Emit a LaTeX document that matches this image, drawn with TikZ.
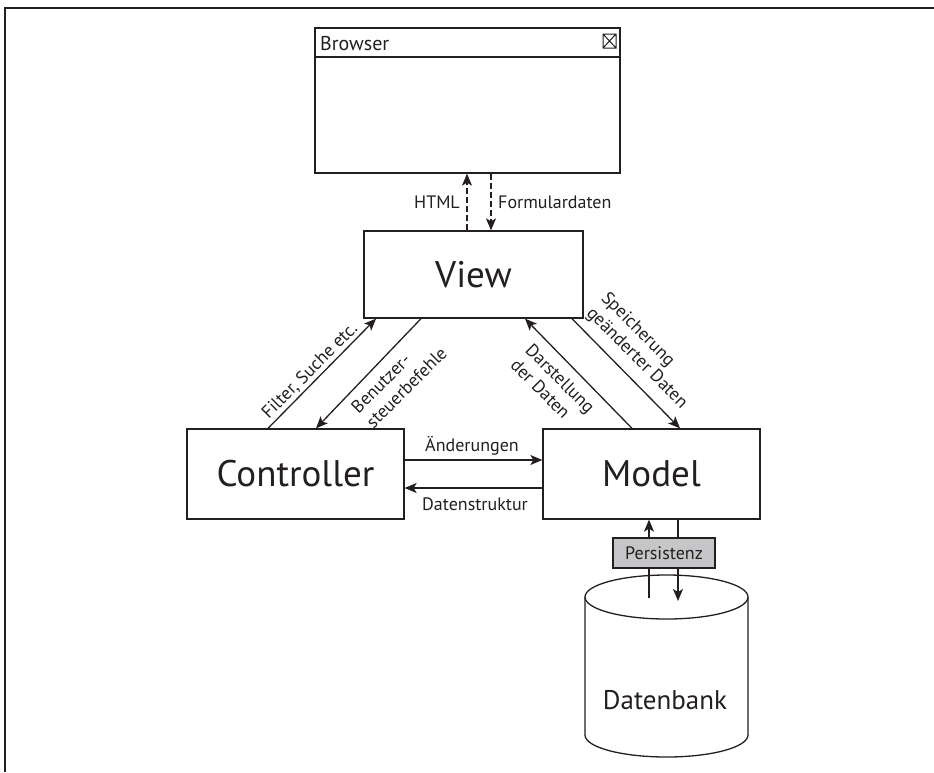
\documentclass[tikz,border=0pt]{standalone}
\usepackage{fontspec}
\setmainfont{PT Sans}
\usetikzlibrary{arrows.meta,calc}
\definecolor{ink}{HTML}{231F20}
\definecolor{persgray}{HTML}{C6C6C8}
\tikzset{
  box/.style={draw=ink, line width=1.3pt, fill=white, inner sep=0pt, text=ink},
  lbl/.style={font=\fontsize{18}{21}\selectfont, text=ink, inner sep=0pt},
  big/.style={font=\fontsize{37}{42}\selectfont},
  arr/.style={draw=ink, line width=1.3pt, -{Stealth[length=12pt,width=10pt,inset=3pt]}},
  dsh/.style={dash pattern=on 6pt off 3pt},
}
\begin{document}
\begin{tikzpicture}[x=1pt,y=-1pt]
\useasboundingbox (0,0) rectangle (934,772);
\draw[ink, line width=1.6pt] (5,772) -- (5,8) -- (934,8);

% Browser window
\node[box, minimum width=305pt, minimum height=145pt] (browser) at (467.5,100.5) {};
\draw[ink, line width=1.3pt] (315,57) -- (620,57);
\node[lbl, font=\fontsize{20}{24}\selectfont, anchor=base west] (btitle) at (320,50) {Browser};
\draw[ink, line width=1pt] (603,34) rectangle (616,48) (603,34) -- (616,48) (603,48) -- (616,34);

% Main boxes
\node[box, big, minimum width=219pt, minimum height=87pt] (view) at (473.5,274.5) {View};
\node[box, big, minimum width=217pt, minimum height=90pt] (ctrl) at (295.5,474) {Controller};
\node[box, big, minimum width=217pt, minimum height=90pt] (model) at (651.5,474) {Model};

% Browser <-> View
\draw[arr, dsh] ($(view.north)+(-6.5,0)$) -- ($(browser.south)+(-0.5,0)$);
\draw[arr, dsh] ($(browser.south)+(23.5,0)$) -- ($(view.north)+(17.5,0)$);
\node[lbl, anchor=base east] (lhtml) at (460,208) {HTML};
\node[lbl, anchor=base west] (lform) at (498,208) {Formulardaten};

% Controller <-> View
\draw[arr] ($(ctrl.north)+(-27.5,0)$) -- ($(view.south)+(-97.5,0)$);
\draw[arr] ($(view.south)+(-52.5,0)$) -- ($(ctrl.north)+(20.5,0)$);
\node[lbl, rotate=45] (lfilter) at (310,371) {Filter, Suche etc.};
\node[lbl, rotate=45, align=left] (lbenutz) at (399,380) {Benutzer-\\steuerbefehle};

% Model <-> View
\draw[arr] ($(model.north)+(-19.5,0)$) -- ($(view.south)+(51.5,0)$);
\draw[arr] ($(view.south)+(98.5,0)$) -- ($(model.north)+(28.5,0)$);
\node[lbl, rotate=-45, align=left] (ldarst) at (553,386) {Darstellung\\der Daten};
\node[lbl, rotate=-45, align=left] (lspeich) at (644,351) {Speicherung\\geänderter Daten};

% Controller <-> Model
\draw[arr] ($(ctrl.east)+(0,-14)$) -- ($(model.west)+(0,-14)$);
\draw[arr] ($(model.west)+(0,14)$) -- ($(ctrl.east)+(0,14)$);
\node[lbl, anchor=base] (laend) at (472,451) {Änderungen};
\node[lbl, anchor=base] (ldaten) at (475,510) {Datenstruktur};

% Database cylinder
\draw[ink, line width=1.3pt, fill=white] (585,597) -- (585,735) arc[start angle=180, end angle=360, x radius=81.5, y radius=-22] -- (748,597);
\draw[ink, line width=1.3pt, fill=white] (666.5,597) ellipse[x radius=81.5, y radius=22];
\node[lbl, font=\fontsize{27}{31}\selectfont] (db) at (665,700) {Datenbank};

% Persistence arrows
\coordinate (pup) at (649,598);
\coordinate (pdown) at (678,601);
\draw[arr] (pup) -- ($(model.south)+(-2.5,0)$);
\draw[arr] ($(model.south)+(26.5,0)$) -- (pdown);
\node[box, lbl, fill=persgray, minimum width=102pt, minimum height=30pt] (pers) at (664,553) {Persistenz};
\end{tikzpicture}
\end{document}
